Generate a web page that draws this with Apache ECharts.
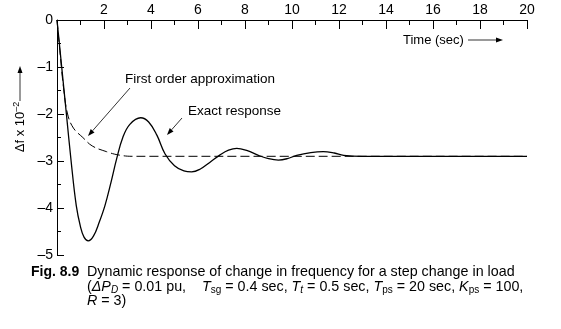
<!DOCTYPE html>
<html>
<head>
<meta charset="utf-8">
<script src="https://cdn.jsdelivr.net/npm/echarts@6/dist/echarts.min.js"></script>
<style>
html,body{margin:0;padding:0;background:#fff;}
#c{width:561px;height:329px;}
</style>
</head>
<body>
<div id="c"></div>
<script>
// ---- data ----
var xTicks = [0, 2, 4, 6, 8, 10, 12, 14, 16, 18, 20];
var yTicks = [0, -1, -2, -3, -4, -5];
var exactT = [0, 0.2, 0.4, 0.6, 0.82, 1.0, 1.15, 1.33, 1.55, 1.8, 2.04, 2.3, 2.54, 2.8, 3.1, 3.56, 3.9, 4.25, 4.6, 5.0, 5.4, 5.73, 6.1, 6.5, 6.94, 7.3, 7.65, 8.1, 8.57, 9.0, 9.42, 9.8, 10.2, 10.8, 11.33, 11.8, 12.2, 13, 20];
var exactF = [0, -1.0, -2.0, -3.0, -3.95, -4.4, -4.62, -4.70, -4.6, -4.3, -3.95, -3.45, -2.95, -2.5, -2.22, -2.08, -2.17, -2.45, -2.85, -3.1, -3.21, -3.23, -3.17, -3.03, -2.87, -2.77, -2.73, -2.78, -2.88, -2.95, -2.98, -2.95, -2.88, -2.82, -2.80, -2.83, -2.88, -2.9, -2.9];
var firstT = [0, 0.14, 0.28, 0.45, 0.7, 1.1, 1.5, 2.1, 2.6, 3.2, 20];
var firstF = [0, -0.75, -1.45, -2.0, -2.3, -2.5, -2.68, -2.8, -2.87, -2.9, -2.9];

function pairs(t, f) { return t.map(function (v, i) { return [v, f[i]]; }); }

var FONT = 'Liberation Sans';

function arrow(x1, y1, x2, y2) {
  var dx = x2 - x1, dy = y2 - y1, L = Math.sqrt(dx * dx + dy * dy);
  var ux = dx / L, uy = dy / L, hl = 7, hw = 2.5;
  var bx = x2 - ux * hl, by = y2 - uy * hl;
  return [
    { type: 'line', silent: true, shape: { x1: x1, y1: y1, x2: bx, y2: by }, style: { stroke: '#000', lineWidth: 0.8 } },
    { type: 'polygon', silent: true, shape: { points: [[x2, y2], [bx - uy * hw, by + ux * hw], [bx + uy * hw, by - ux * hw]] }, style: { fill: '#000' } }
  ];
}

var graphics = [];
graphics.push({ type: 'text', left: 125, top: 72, style: { text: 'First order approximation', font: '13.5px "' + FONT + '"', fill: '#000' } });
graphics.push({ type: 'text', left: 188, top: 104, style: { text: 'Exact response', font: '13.5px "' + FONT + '"', fill: '#000' } });
graphics = graphics.concat(arrow(130, 88, 88, 136));
graphics = graphics.concat(arrow(182, 118, 167, 135));
// Time label
graphics.push({ type: 'text', x: 403, y: 40, style: { text: 'Time (sec)', font: '13px "' + FONT + '"', fill: '#000', verticalAlign: 'middle' } });
graphics = graphics.concat(arrow(468, 40, 503, 40));
// Y label (rotated)
graphics.push({
  type: 'text', x: 20, y: 127, rotation: Math.PI / 2,
  style: {
    text: '{m|\u0394f x 10}{s|\u20132}', align: 'center', verticalAlign: 'middle',
    rich: {
      m: { fontSize: 13, fontFamily: FONT, lineHeight: 16, fill: '#000', color: '#000' },
      s: { fontSize: 9, fontFamily: FONT, lineHeight: 8, verticalAlign: 'top', fill: '#000', color: '#000' }
    }
  }
});
graphics = graphics.concat(arrow(20, 101, 20, 66));
// Caption
var CS = 14.3;
graphics.push({ type: 'text', x: 31, y: 272, style: { text: 'Fig. 8.9', font: 'bold 14px "' + FONT + '"', fill: '#000', verticalAlign: 'middle' } });
graphics.push({ type: 'text', x: 87, y: 272, style: { text: 'Dynamic response of change in frequency for a step change in load', font: CS + 'px "' + FONT + '"', fill: '#000', verticalAlign: 'middle' } });
var richCap = {
  n: { fontSize: CS, fontFamily: FONT, lineHeight: 16, fill: '#000' },
  i: { fontSize: CS, fontFamily: FONT, fontStyle: 'italic', lineHeight: 16, fill: '#000' },
  s: { fontSize: 10, fontFamily: FONT, lineHeight: 7, verticalAlign: 'bottom', fill: '#000' },
  si: { fontSize: 10, fontFamily: FONT, fontStyle: 'italic', lineHeight: 7, verticalAlign: 'bottom', fill: '#000' }
};
graphics.push({
  type: 'text', x: 87, y: 287,
  style: {
    verticalAlign: 'middle',
    text: '{n|(}{i|\u0394P}{si|D}{n| = 0.01 pu,    }{i|T}{s|sg}{n| = 0.4 sec, }{i|T}{si|t}{n| = 0.5 sec, }{i|T}{s|ps}{n| = 20 sec, }{i|K}{s|ps}{n| = 100,}',
    rich: richCap
  }
});
graphics.push({
  type: 'text', x: 87, y: 301,
  style: { verticalAlign: 'middle', text: '{i|R}{n| = 3)}', rich: richCap }
});

var chart = echarts.init(document.getElementById('c'), null, { renderer: 'canvas' });
chart.setOption({
  animation: false,
  backgroundColor: '#fff',
  grid: { left: 57, top: 20, right: 34, bottom: 74, containLabel: false },
  xAxis: {
    type: 'value', position: 'top', min: xTicks[0], max: xTicks[xTicks.length - 1], interval: 2,
    axisLine: { show: true, onZero: false, lineStyle: { color: '#000', width: 1 } },
    axisTick: { show: true, inside: true, length: 9, lineStyle: { color: '#000', width: 1 } },
    minorTick: { show: true, splitNumber: 2, length: 5, lineStyle: { color: '#000', width: 1 } },
    splitLine: { show: false }, minorSplitLine: { show: false },
    axisLabel: { color: '#000', fontSize: 14, fontFamily: FONT, margin: 3, formatter: function (v) { return v === 0 ? '' : String(v); } }
  },
  yAxis: {
    type: 'value', min: yTicks[yTicks.length - 1], max: yTicks[0], interval: 1,
    axisLine: { show: true, onZero: false, lineStyle: { color: '#000', width: 1 } },
    axisTick: { show: true, inside: true, length: 7, lineStyle: { color: '#000', width: 1 } },
    minorTick: { show: true, splitNumber: 2, length: 4, lineStyle: { color: '#000', width: 1 } },
    splitLine: { show: false }, minorSplitLine: { show: false },
    axisLabel: { color: '#000', fontSize: 14, fontFamily: FONT, margin: 4, formatter: function (v) { return v === 0 ? '0' : '\u2013' + Math.abs(v); } }
  },
  series: [
    { name: 'Exact response', type: 'line', data: pairs(exactT, exactF), smooth: 0.4, symbol: 'none', lineStyle: { color: '#000', width: 1.3 } },
    { name: 'First order approximation', type: 'line', data: pairs(firstT, firstF), smooth: 0.4, symbol: 'none', lineStyle: { color: '#000', width: 1, type: [9, 4] } }
  ],
  graphic: graphics
});
</script>
</body>
</html>
